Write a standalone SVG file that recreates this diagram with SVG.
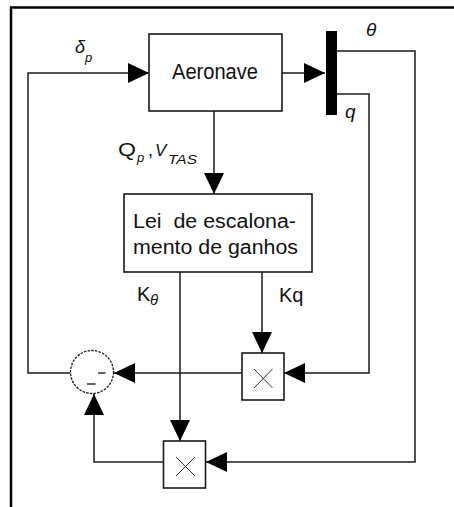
<svg xmlns="http://www.w3.org/2000/svg" width="454" height="507" viewBox="0 0 454 507">
<defs>
<style>
.ln{fill:none;stroke:#1a1a1a;stroke-width:1.5}
.bx{fill:#fff;stroke:#1a1a1a;stroke-width:1.6}
.t{font-family:"Liberation Sans",Arial,sans-serif;fill:#111}
.i{font-style:italic}
.x{stroke:#333;stroke-width:1}
</style>
<marker id="ah" markerUnits="userSpaceOnUse" markerWidth="22" markerHeight="22" refX="21" refY="10" orient="auto" viewBox="0 0 22 20">
<path d="M0,0 L21,10 L0,20 z" fill="#000"/>
</marker>
</defs>
<rect width="454" height="507" fill="#fff"/>
<g id="frame">
<line x1="10" y1="7.5" x2="454" y2="7.5" stroke="#000" stroke-width="2.5"/>
<line x1="11" y1="7" x2="11" y2="507" stroke="#000" stroke-width="2.5"/>
</g>
<g id="connectors">
<polyline class="ln" points="70,373 28,373 28,73 149,73" marker-end="url(#ah)"/>
<polyline class="ln" points="282,73 325,73" marker-end="url(#ah)"/>
<polyline class="ln" points="337,51 415,51 415,462 206,462" marker-end="url(#ah)"/>
<polyline class="ln" points="337,94 369,94 369,373 284,373" marker-end="url(#ah)"/>
<polyline class="ln" points="214,111 214,194" marker-end="url(#ah)"/>
<polyline class="ln" points="262,272 262,353" marker-end="url(#ah)"/>
<polyline class="ln" points="180,272 180,441" marker-end="url(#ah)"/>
<polyline class="ln" points="242,373 114,373" marker-end="url(#ah)"/>
<polyline class="ln" points="163,462 94,462 94,394" marker-end="url(#ah)"/>
</g>
<g id="aeronave">
<rect class="bx" x="149" y="34" width="133" height="77"/>
<text class="t" x="172" y="78.5" font-size="22" textLength="86" lengthAdjust="spacingAndGlyphs">Aeronave</text>
</g>
<g id="bar">
<rect x="326" y="31" width="11" height="84" fill="#000"/>
</g>
<g id="lei">
<rect class="bx" x="124" y="194" width="188" height="78"/>
<text class="t" x="133" y="227.5" font-size="20" textLength="163" lengthAdjust="spacingAndGlyphs">Lei&#160; de escalona-</text>
<text class="t" x="133" y="254" font-size="20" textLength="165" lengthAdjust="spacingAndGlyphs">mento de ganhos</text>
</g>
<g id="mult-q">
<rect class="bx" x="242" y="353" width="42" height="47"/>
<line class="x" x1="254" y1="369" x2="272.5" y2="388"/>
<line class="x" x1="272.5" y1="369" x2="254" y2="388"/>
</g>
<g id="mult-theta">
<rect class="bx" x="163.5" y="441" width="42" height="47"/>
<line class="x" x1="176" y1="457" x2="195" y2="476"/>
<line class="x" x1="195" y1="457" x2="176" y2="476"/>
</g>
<g id="sum">
<circle cx="92" cy="372" r="21.5" fill="#fff" stroke="#1a1a1a" stroke-width="1.3" stroke-dasharray="2.5 1.2"/>
<line x1="98" y1="373" x2="105.5" y2="373" stroke="#111" stroke-width="1.3"/>
<line x1="87" y1="384" x2="95.5" y2="384" stroke="#111" stroke-width="1.3"/>
</g>
<g id="labels">
<text class="t i" x="75" y="53" font-size="18">δ</text>
<text class="t i" x="85" y="62" font-size="13">p</text>
<text class="t i" x="366" y="36" font-size="19">θ</text>
<text class="t i" x="345" y="118" font-size="19">q</text>
<text class="t" x="118" y="156" font-size="18" textLength="18" lengthAdjust="spacingAndGlyphs">Q</text>
<text class="t i" x="137" y="162" font-size="13">p</text>
<text class="t" x="148" y="156" font-size="18">,</text>
<text class="t i" x="155" y="156" font-size="17">V</text>
<text class="t i" x="168" y="164" font-size="13" textLength="29" lengthAdjust="spacingAndGlyphs">TAS</text>
<text class="t" x="137" y="301" font-size="20">K</text>
<text class="t i" x="150" y="305" font-size="15">θ</text>
<text class="t" x="279" y="302" font-size="20">Kq</text>
</g>
</svg>
